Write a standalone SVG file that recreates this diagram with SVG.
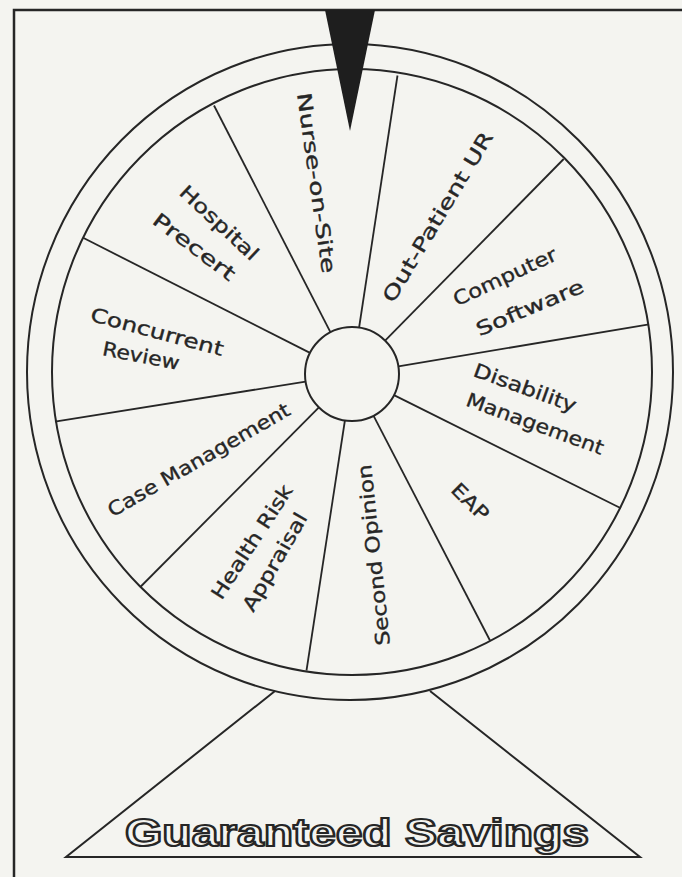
<svg xmlns="http://www.w3.org/2000/svg" width="682" height="877" viewBox="0 0 682 877">
<style>
.ln{fill:none;stroke:#262626;stroke-width:2}
.sp{stroke:#262626;stroke-width:1.8;fill:none}
.lb{font-family:"DejaVu Sans","Liberation Sans",sans-serif;font-size:19.5px;fill:#262626;stroke:#262626;stroke-width:0.35;text-anchor:middle;dominant-baseline:central}
.big{font-family:"Liberation Sans",Arial,sans-serif;font-weight:bold;font-size:39px;fill:#f4f4f0;stroke:#262626;stroke-width:2.2;text-anchor:middle}
</style>
<rect width="682" height="877" fill="#f4f4f0"/>
<g id="frame"><path class="ln" style="stroke-width:2.5" d="M14,877 V10 H682"/></g>
<g id="stand"><path class="ln" d="M275,691 L66,857 H640 L430,691"/>
<text class="big" x="357" y="846" textLength="464" lengthAdjust="spacingAndGlyphs">Guaranteed Savings</text></g>
<g id="wheel">
<ellipse class="ln" cx="350" cy="372" rx="323" ry="328"/>
<ellipse class="ln" cx="352" cy="372" rx="300" ry="303"/>
</g>
<g id="connectors">
<line class="sp" x1="359.1" y1="327.5" x2="397.5" y2="75.5"/>
<line class="sp" x1="385.1" y1="340.6" x2="563.7" y2="159"/>
<line class="sp" x1="398.4" y1="366.4" x2="649" y2="324.4"/>
<line class="sp" x1="394" y1="395.1" x2="620.9" y2="508.2"/>
<line class="sp" x1="373.6" y1="415.8" x2="490" y2="640.5"/>
<line class="sp" x1="344.9" y1="420.5" x2="306.5" y2="670.5"/>
<line class="sp" x1="318.9" y1="407.4" x2="140.3" y2="587"/>
<line class="sp" x1="305.6" y1="381.6" x2="55" y2="421.6"/>
<line class="sp" x1="310" y1="352.9" x2="83.1" y2="237.8"/>
<line class="sp" x1="330.4" y1="332.2" x2="214" y2="105.5"/>
</g>
<g id="hub"><circle class="ln" cx="352" cy="374" r="47"/></g>
<g id="pointer"><polygon points="325,10 375,10 350,131" fill="#1e1e1e"/></g>
<g id="nurse-on-site"><text class="lb" transform="translate(316,183) rotate(82)" textLength="182" lengthAdjust="spacingAndGlyphs">Nurse-on-Site</text></g>
<g id="out-patient-ur"><text class="lb" transform="translate(438,217) rotate(-59)" textLength="195" lengthAdjust="spacingAndGlyphs">Out-Patient UR</text></g>
<g id="computer-software">
<text class="lb" transform="translate(505,277) rotate(-25)" textLength="112" lengthAdjust="spacingAndGlyphs">Computer</text>
<text class="lb" transform="translate(530,308) rotate(-23)" textLength="115" lengthAdjust="spacingAndGlyphs">Software</text></g>
<g id="disability-management">
<text class="lb" transform="translate(525,388) rotate(20)" textLength="108" lengthAdjust="spacingAndGlyphs">Disability</text>
<text class="lb" transform="translate(535,424) rotate(20)" textLength="145" lengthAdjust="spacingAndGlyphs">Management</text></g>
<g id="eap"><text class="lb" transform="translate(470,502) rotate(45)" textLength="44" lengthAdjust="spacingAndGlyphs">EAP</text></g>
<g id="second-opinion"><text class="lb" transform="translate(374,555) rotate(-96)" textLength="182" lengthAdjust="spacingAndGlyphs">Second Opinion</text></g>
<g id="health-risk-appraisal">
<text class="lb" transform="translate(252,542) rotate(-57)" textLength="132" lengthAdjust="spacingAndGlyphs">Health Risk</text>
<text class="lb" transform="translate(275,562) rotate(-60)" textLength="110" lengthAdjust="spacingAndGlyphs">Appraisal</text></g>
<g id="case-management"><text class="lb" transform="translate(199,460) rotate(-30)" textLength="207" lengthAdjust="spacingAndGlyphs">Case Management</text></g>
<g id="concurrent-review">
<text class="lb" transform="translate(157,332) rotate(15)" textLength="137" lengthAdjust="spacingAndGlyphs">Concurrent</text>
<text class="lb" transform="translate(141,356) rotate(11)" textLength="78" lengthAdjust="spacingAndGlyphs">Review</text></g>
<g id="hospital-precert">
<text class="lb" transform="translate(219,223) rotate(43)" textLength="100" lengthAdjust="spacingAndGlyphs">Hospital</text>
<text class="lb" transform="translate(194,247) rotate(37)" textLength="98" lengthAdjust="spacingAndGlyphs">Precert</text></g>
</svg>
